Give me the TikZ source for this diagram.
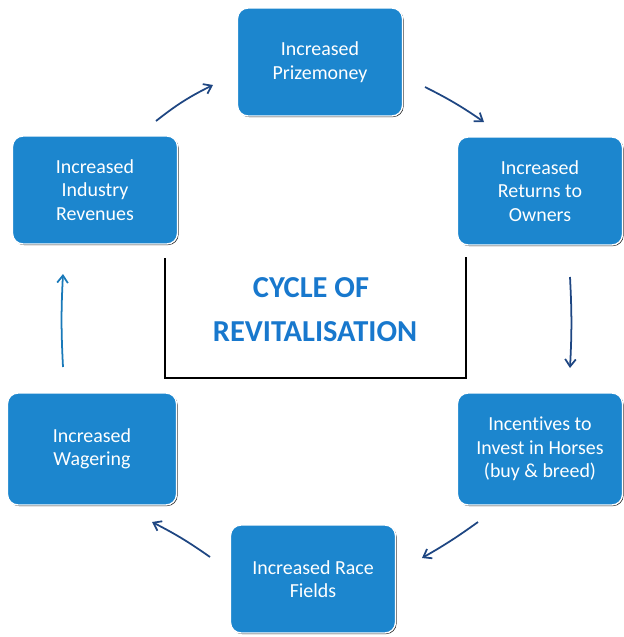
\documentclass[tikz,border=0pt]{standalone}
\usepackage{fontspec}
\setmainfont{Carlito}[Ligatures={NoCommon,NoContextual}, Contextuals=NoAlternate]
\usepackage{xcolor}
\usepackage{tikz}
\usetikzlibrary{arrows.meta,shadows}

\definecolor{CycleBlue}{RGB}{28,134,206}
\definecolor{TitleBlue}{RGB}{24,120,205}
\definecolor{ArrowBlue}{RGB}{30,70,130}

\begin{document}
\begin{tikzpicture}[x=0.03cm, y=-0.03cm,
  box/.style={rectangle, rounded corners=9pt, fill=CycleBlue, draw=white, line width=1.2pt,
    general shadow={fill=black!85, shadow xshift=0.9pt, shadow yshift=-0.9pt},
    minimum width=4.95cm, minimum height=3.24cm, inner sep=2pt, align=center,
    text=white, font=\fontsize{17}{20}\selectfont},
  line/.style={-{Straight Barb[length=2.2mm,width=3.2mm]}, draw=ArrowBlue, line width=1.5pt},
  title/.style={text=TitleBlue, font=\fontsize{26}{30}\selectfont\bfseries, align=center}]

  \useasboundingbox (0,0) rectangle (624,637);

  \node[box] (statePrize)   at (320,62)  {Increased\\Prizemoney};
  \node[box] (stateRevenue) at (95,190)  {Increased\\Industry\\Revenues};
  \node[box] (stateReturns) at (540,191) {Increased\\Returns to\\Owners};
  \node[box, minimum height=3.36cm] (stateHorses)  at (540,449) {Incentives to\\Invest in Horses\\(buy \& breed)};
  \node[box, minimum width=5.07cm, minimum height=3.36cm] (stateWager) at (92,449) {Increased\\Wagering};
  \node[box] (stateRace)    at (313,579) {Increased Race\\Fields};

  % centre frame, open at the top
  \node[title] (cycleTop) at (311,288) {CYCLE OF};
  \node[title] (cycleBot) at (315,332) {REVITALISATION};
  \draw[black, line width=1pt] (165,258) -- (165,378) -- (466,378) -- (466,257);

  % free ends of the arrows
  \coordinate (revOut)  at (156,121);
  \coordinate (prizeIn) at (213,85);
  \coordinate (prizeOut) at (425,87);
  \coordinate (retIn)   at (484,122);
  \coordinate (retOut)  at (570,277);
  \coordinate (horIn)   at (570,368);
  \coordinate (horOut)  at (478,522);
  \coordinate (raceIn)  at (422,558);
  \coordinate (raceOut) at (210,557);
  \coordinate (wagIn)   at (152,522);
  \coordinate (wagOut)  at (63,367);
  \coordinate (revIn)   at (63,274);

  \draw [line] (revOut)   to[bend left=6]  (prizeIn);
  \draw [line] (prizeOut) to[bend left=4]  (retIn);
  \draw [line] (retOut)   to[bend left=3]  (horIn);
  \draw [line] (horOut)   to[bend left=3]  (raceIn);
  \draw [line] (raceOut)  to[bend right=4] (wagIn);
  \draw [line, draw=CycleBlue!90!black] (wagOut) to[bend left=3] (revIn);
\end{tikzpicture}
\end{document}
